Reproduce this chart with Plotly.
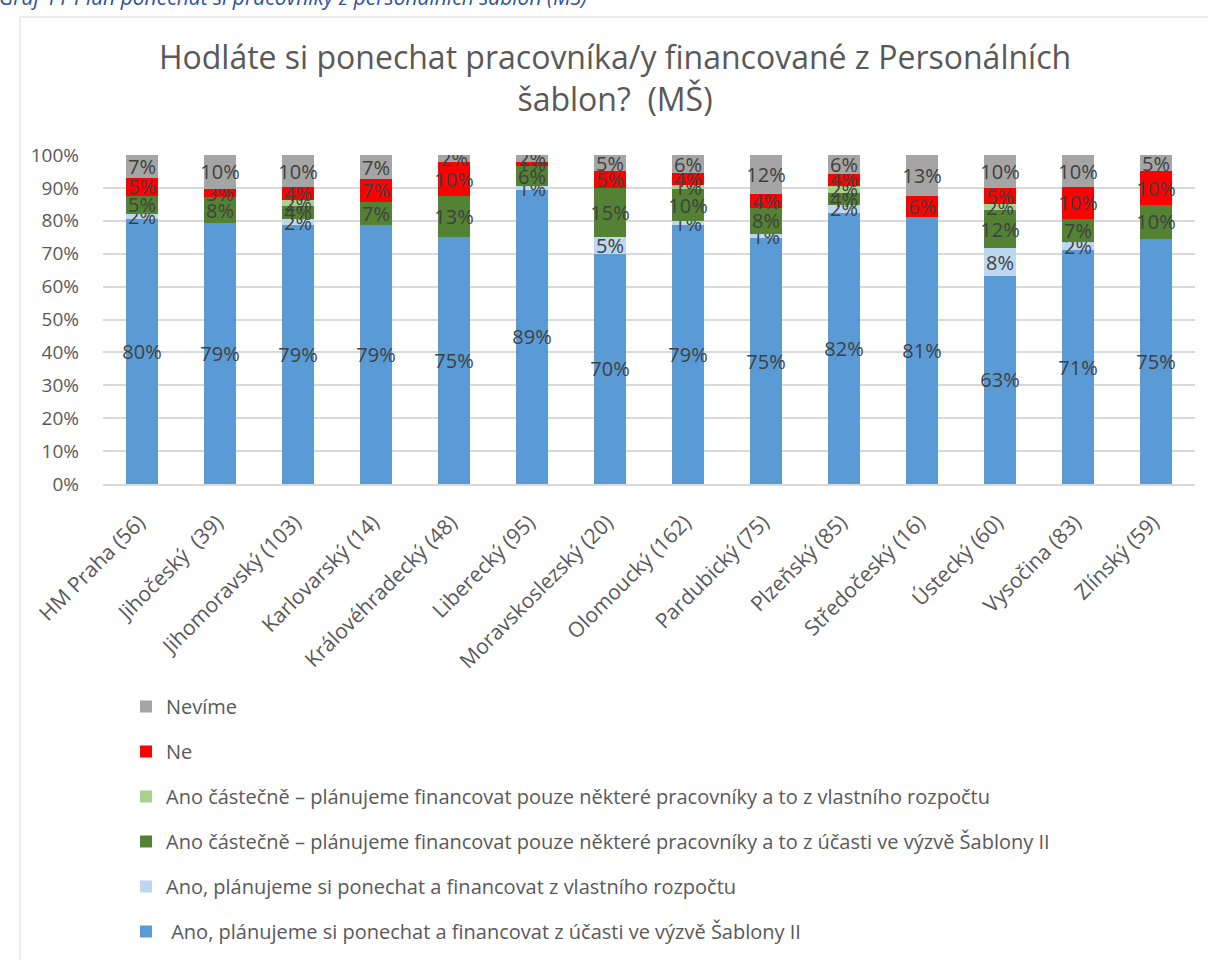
import plotly.graph_objects as go

categories = ["HM Praha (56)", "Jihočeský  (39)", "Jihomoravský (103)", "Karlovarský (14)",
              "Královéhradecký (48)", "Liberecký (95)", "Moravskoslezský (20)", "Olomoucký (162)",
              "Pardubický (75)", "Plzeňský (85)", "Středočeský (16)", "Ústecký (60)",
              "Vysočina (83)", "Zlínský (59)"]

ano_sablony   = [80.4, 79.4, 78.6, 78.6, 75.0, 89.4, 70.0, 78.6, 74.7, 82.4, 81.25, 63.3, 71.1, 74.6]
ano_vlastni   = [1.8, 0, 1.9, 0, 0, 1.05, 5.0, 1.2, 1.3, 2.4, 0, 8.3, 2.4, 0]
cast_sablony  = [5.4, 7.7, 3.9, 7.1, 12.5, 6.3, 15.0, 9.8, 8.0, 3.5, 0, 11.7, 7.2, 10.2]
cast_vlastni  = [0, 0, 1.9, 0, 0, 0, 0, 1.2, 0, 2.4, 0, 1.7, 0, 0]
ne            = [5.4, 2.6, 3.9, 7.1, 10.4, 1.05, 5.0, 3.6, 4.0, 3.5, 6.25, 5.0, 9.6, 10.2]
nevime        = [7.1, 10.3, 9.7, 7.1, 2.1, 2.1, 5.0, 5.6, 12.0, 5.9, 12.5, 10.0, 9.6, 5.1]

series = [
    ("\u00a0Ano, plánujeme si ponechat a financovat z účasti ve výzvě Šablony II", ano_sablony, "#5B9BD5"),
    ("Ano, plánujeme si ponechat a financovat z vlastního rozpočtu", ano_vlastni, "#BDD7EE"),
    ("Ano částečně – plánujeme financovat pouze některé pracovníky a to z účasti ve výzvě Šablony II", cast_sablony, "#548235"),
    ("Ano částečně – plánujeme financovat pouze některé pracovníky a to z vlastního rozpočtu", cast_vlastni, "#A9D18E"),
    ("Ne", ne, "#FF0000"),
    ("Nevíme", nevime, "#A5A5A5"),
]

W, H = 1208, 960
L, R, T, B = 103, 13, 155, 476
pw, ph = W - L - R, H - T - B

def px_x(px):
    return (px - L) / pw

def px_y(py):
    return (H - B - py) / ph

def lab(v):
    return f"{int(v + 0.5)}%" if v > 0 else ""

fig = go.Figure()
n = len(series)
for i, (name, vals, col) in enumerate(series):
    fig.add_trace(go.Bar(
        name=name, x=categories, y=vals, marker=dict(color=col, line=dict(width=0)),
        text=[lab(v) for v in vals],
        textposition="inside", insidetextanchor="middle", textangle=0,
        textfont=dict(size=20, color="#404040", family="Open Sans"),
        legendgroup=f"g{i}", legendrank=n - i, hoverinfo="skip",
    ))

fig.update_layout(
    width=W, height=H,
    barmode="stack", bargap=0.6,
    margin=dict(l=L, r=R, t=T, b=B, autoexpand=False),
    paper_bgcolor="white", plot_bgcolor="white",
    font=dict(family="Open Sans", color="#595959"),
    uniformtext=dict(mode="show", minsize=20),
    title=dict(text="Hodláte si ponechat pracovníka/y financované z Personálních<br>šablon?  (MŠ)",
               x=615 / W, xanchor="center", y=1 - 69 / H, yanchor="middle",
               font=dict(size=32, color="#595959", family="Open Sans")),
    xaxis=dict(tickangle=-45, tickfont=dict(size=21, color="#595959"), showline=True,
               linecolor="#D9D9D9", linewidth=1.5, ticks="", showgrid=False, automargin=False,
               ticklabelstandoff=16, ticklabelshift=-3),
    yaxis=dict(range=[0, 100], dtick=10, ticksuffix="%", gridcolor="#D9D9D9", gridwidth=1.5,
               tickfont=dict(size=19, color="#595959"), zeroline=False, showline=False,
               automargin=False, ticklabelstandoff=23),
    legend=dict(orientation="v", xref="container", yref="container",
                x=126 / W, xanchor="left", y=1 - 687 / H, yanchor="top",
                traceorder="grouped", tracegroupgap=16,
                font=dict(size=20, color="#595959"), bgcolor="rgba(0,0,0,0)"),
    shapes=[dict(type="rect", xref="paper", yref="paper",
                 x0=px_x(20), x1=px_x(1212), y0=px_y(965), y1=px_y(17),
                 line=dict(color="#D9D9D9", width=1), fillcolor="rgba(0,0,0,0)", layer="below")],
    annotations=[dict(text="<i>Graf 11 Plán ponechat si pracovníky z personálních šablon (MŠ)</i>",
                      xref="paper", yref="paper", x=px_x(-3), xanchor="left", y=px_y(-3), yanchor="middle",
                      showarrow=False, font=dict(size=21, color="#2F5597", family="Open Sans"))],
)

fig.write_html("out.html", config={"displayModeBar": False},
               post_script="document.body.style.margin='0';document.body.style.overflow='hidden';")
